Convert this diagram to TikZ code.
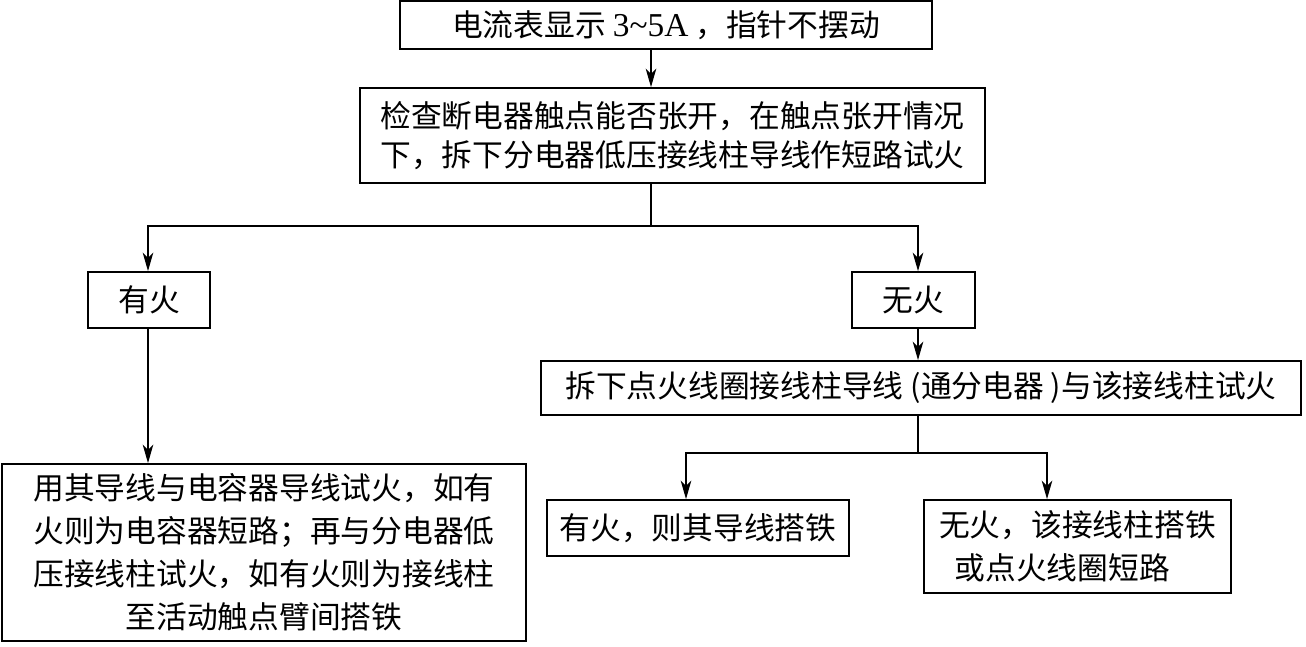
\documentclass[tikz,border=0pt]{standalone}
\usepackage{fontspec}
\setmainfont{Liberation Serif}
\newfontfamily\cjk{Noto Sans CJK SC}
\usetikzlibrary{arrows.meta}

\begin{document}
\begin{tikzpicture}[
	box/.style={draw, line width=1pt, inner sep=0pt, align=center, font=\cjk\fontsize{17.5}{22}\selectfont},
	tallbox/.style={box, font=\cjk\fontsize{17.5}{24.5}\selectfont},
	link/.style={line width=1pt},
	arr/.style={link, -{Stealth[length=10.5pt, width=6pt, inset=3pt]}}]
	\useasboundingbox (0,0) rectangle (26.12,-12.92);
	
	\node [box, minimum width=10.64cm, minimum height=0.96cm] (top) at (13.32,-0.50) {电流表显示 {\rmfamily\fontsize{19}{22}\selectfont 3\textasciitilde5A} ，指针不摆动};
	\node [box, minimum width=12.5cm, minimum height=1.9cm] (check) at (13.45,-2.71) {检查断电器触点能否张开，在触点张开情况\\下，拆下分电器低压接线柱导线作短路试火};
	\node [box, minimum width=2.44cm, minimum height=1.12cm] (fire) at (2.98,-6.0) {有火};
	\node [box, minimum width=2.46cm, minimum height=1.12cm] (nofire) at (18.27,-6.0) {无火};
	\node [tallbox, minimum width=10.48cm, minimum height=3.54cm] (cap) at (5.28,-11.05) {用其导线与电容器导线试火，如有\\火则为电容器短路；再与分电器低\\压接线柱试火，如有火则为接线柱\\至活动触点臂间搭铁};
	\node [box, minimum width=15.2cm, minimum height=1.08cm] (coil) at (18.42,-7.76) {拆下点火线圈接线柱导线 (通分电器 )与该接线柱试火};
	\node [box, minimum width=6.04cm, minimum height=1.12cm] (ground) at (13.96,-10.56) {有火，则其导线搭铁};
	\node [tallbox, align=left, minimum width=6.14cm, minimum height=1.86cm] (short) at (21.55,-10.93) {无火，该接线柱搭铁\\\hspace{0.5em}或点火线圈短路};
	
	% branch points
	\coordinate (s1) at (13.02,-4.52);
	\coordinate (s1l) at (2.96,-4.52);
	\coordinate (s1r) at (18.36,-4.52);
	\coordinate (s2) at (18.36,-9.06);
	\coordinate (s2l) at (13.72,-9.06);
	\coordinate (s2r) at (20.94,-9.06);
	
	\draw [arr] (top.south -| s1) -- (check.north -| s1);
	\draw [link] (check.south -| s1) -- (s1);
	\draw [arr] (s1) -| (fire.north -| s1l);
	\draw [arr] (s1) -| (nofire.north -| s1r);
	\draw [arr] (fire.south -| s1l) -- (cap.north -| s1l);
	\draw [arr] (nofire.south -| s1r) -- (coil.north -| s1r);
	\draw [link] (coil.south -| s2) -- (s2);
	\draw [arr] (s2) -| (ground.north -| s2l);
	\draw [arr] (s2) -| (short.north -| s2r);
\end{tikzpicture}
\end{document}
